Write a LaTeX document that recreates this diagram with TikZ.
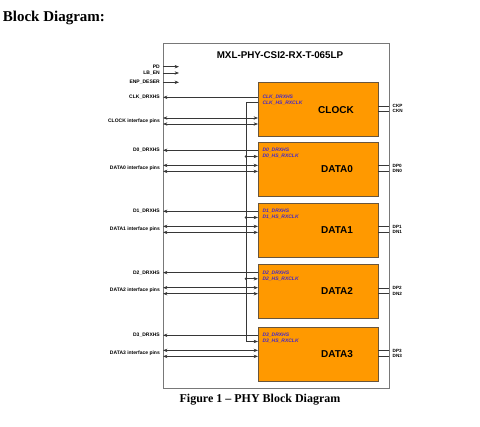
\documentclass[tikz,border=0pt]{standalone}
\usepackage{fontspec}
\setmainfont{Liberation Serif}
\newfontfamily\arialf{Liberation Sans}
\usetikzlibrary{arrows.meta}
\definecolor{blkorange}{RGB}{255,153,0}
\definecolor{blkedge}{RGB}{105,85,60}
\definecolor{pinblue}{RGB}{70,40,200}
\definecolor{wire}{RGB}{55,55,55}
\definecolor{chipedge}{RGB}{120,120,120}
\begin{document}
\begin{tikzpicture}[x=1pt,y=-1pt,
  wirestyle/.style={draw=wire, line width=0.6pt},
  arr/.style={-{Stealth[length=4.4pt,width=3.4pt]}},
  barr/.style={{Stealth[length=4.4pt,width=3.4pt]}-{Stealth[length=4.4pt,width=3.4pt]}},
  blk/.style={draw=blkedge, fill=blkorange, line width=0.7pt, minimum width=119.5, minimum height=54, inner sep=0, anchor=north west},
  blktxt/.style={font=\arialf\bfseries\fontsize{10}{12}\selectfont, inner sep=0},
  inlbl/.style={font=\arialf\bfseries\itshape\fontsize{5}{6}\selectfont, text=pinblue, inner sep=0, anchor=west},
  llbl/.style={font=\arialf\bfseries\fontsize{5}{6}\selectfont, inner sep=0, anchor=east},
  rlbl/.style={font=\arialf\bfseries\fontsize{4.6}{5.5}\selectfont, inner sep=0, anchor=west},
  dot/.style={circle, fill=wire, inner sep=0, minimum size=2.8}
]
\useasboundingbox (0,0) rectangle (480,427);

% heading and caption
\node[font=\bfseries\fontsize{15}{18}\selectfont, anchor=west, inner sep=0] (head) at (2.7,18) {Block Diagram:};
\node[font=\bfseries\fontsize{12}{14}\selectfont, inner sep=0] (cap) at (260,399.3) {Figure 1 -- PHY Block Diagram};

% chip outline
\node[draw=chipedge, line width=0.8pt, minimum width=226, minimum height=345, inner sep=0, anchor=north west] (chip) at (163,43.5) {};
\node[font=\arialf\bfseries\fontsize{9.8}{12}\selectfont, inner sep=0] (title) at (280,55) {MXL-PHY-CSI2-RX-T-065LP};

% control inputs
\coordinate (pdL) at (163,66.7);   \coordinate (pdR) at (179,66.7);
\coordinate (lbL) at (163,73);     \coordinate (lbR) at (179,73);
\coordinate (enL) at (163,82.3);   \coordinate (enR) at (179,82.3);
\draw[wirestyle,arr] (pdL) -- (pdR);
\draw[wirestyle,arr] (lbL) -- (lbR);
\draw[wirestyle,arr] (enL) -- (enR);
\node[llbl] (pdT) at (160,66.7) {PD};
\node[llbl] (lbT) at (160,73) {LB\_EN};
\node[llbl] (enT) at (160,82.3) {ENP\_DESER};

% clock block
\node[blk] (clk) at (258,82.3) {};
\node[blktxt] (clkT) at (336,110) {CLOCK};
\node[inlbl] (clkA) at (262.3,96.7) {CLK\_DRXHS};
\node[inlbl] (clkB) at (262.3,102.7) {CLK\_HS\_RXCLK};
\coordinate (cA) at (163,97.3);
\coordinate (cP) at (163,118);
\coordinate (cN) at (163,124);
\draw[wirestyle,arr] (clk.west |- cA) -- (cA);
\draw[wirestyle,barr] (cP) -- (clk.west |- cP);
\draw[wirestyle,barr] (cN) -- (clk.west |- cN);
\node[llbl] (cAT) at (160,97.3) {CLK\_DRXHS};
\node[llbl] (cPT) at (160,121) {CLOCK interface pins};
\coordinate (ckp) at (389,106.3);
\coordinate (ckn) at (389,111.3);
\draw[wirestyle] (clk.east |- ckp) -- (ckp);
\draw[wirestyle] (clk.east |- ckn) -- (ckn);
\node[rlbl] (ckpT) at (392.5,106.3) {CKP};
\node[rlbl] (cknT) at (392.5,111.3) {CKN};
\coordinate (busTop) at (246,102.7);

% data blocks
\foreach \i/\t in {0/141.7,1/202.7,2/264,3/326.7} {
  \node[blk] (d\i) at (258,\t) {};
  \node[blktxt] (dT\i) at (337,\t+27) {DATA\i};
  \node[inlbl] (dA\i) at (262.3,\t+8.6) {D\i\_DRXHS};
  \node[inlbl] (dB\i) at (262.3,\t+14.8) {D\i\_HS\_RXCLK};
  \coordinate (la\i) at (163,\t+8.6);
  \coordinate (hs\i) at (246,\t+14.8);
  \coordinate (lp\i) at (163,\t+23.7);
  \coordinate (ln\i) at (163,\t+29.7);
  \draw[wirestyle,arr] (d\i.west |- la\i) -- (la\i);
  \draw[wirestyle,barr] (lp\i) -- (d\i.west |- lp\i);
  \draw[wirestyle,barr] (ln\i) -- (d\i.west |- ln\i);
  \node[llbl] (laT\i) at (160,\t+8.6) {D\i\_DRXHS};
  \node[llbl] (lpT\i) at (160,\t+26.7) {DATA\i\ interface pins};
  \coordinate (rp\i) at (389,\t+24);
  \coordinate (rn\i) at (389,\t+29.6);
  \draw[wirestyle] (d\i.east |- rp\i) -- (rp\i);
  \draw[wirestyle] (d\i.east |- rn\i) -- (rn\i);
  \node[rlbl] (rpT\i) at (392.5,\t+24) {DP\i};
  \node[rlbl] (rnT\i) at (392.5,\t+29.6) {DN\i};
}

% HS RX clock distribution bus
\draw[wirestyle,arr] (clk.west |- busTop) -- (busTop) |- (d3.west |- hs3);
\foreach \i in {0,1,2} {
  \node[dot] (j\i) at (hs\i) {};
  \draw[wirestyle,arr] (j\i.center) -- (d\i.west |- hs\i);
}
\end{tikzpicture}
\end{document}
